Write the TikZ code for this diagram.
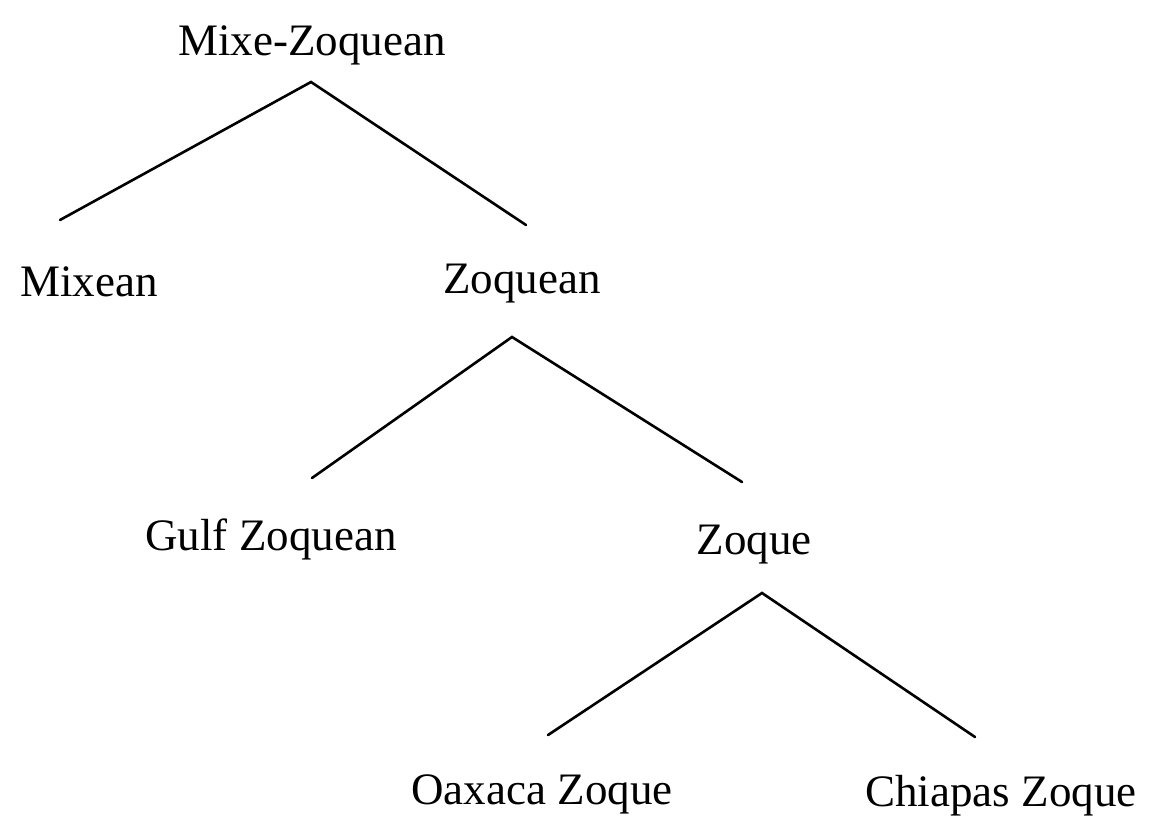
\documentclass[tikz,border=0pt]{standalone}
\usepackage{fontspec}
\setmainfont{Liberation Serif}
\begin{document}
\begin{tikzpicture}[x=1pt,y=-1pt,
  lang/.style={inner sep=0pt,font=\fontsize{45}{54}\selectfont},
  branch/.style={line width=2.6pt,line cap=round,line join=miter}]
\useasboundingbox (0,0) rectangle (1158,817);
% language labels
\node[lang] (mz) at (312,45) {Mixe-Zoquean};
\node[lang] (mixean) at (89,282) {Mixean};
\node[lang] (zoquean) at (522,284) {Zoquean};
\node[lang] (gulf) at (271,539) {Gulf Zoquean};
\node[lang] (zoque) at (754,545) {Zoque};
\node[lang] (oaxaca) at (542,794) {Oaxaca Zoque};
\node[lang] (chiapas) at (1001,796) {Chiapas Zoque};
% branch points
\coordinate (mzTop) at (311,82);
\coordinate (mzL) at (60,220);
\coordinate (mzR) at (526,225);
\coordinate (zqTop) at (512,337);
\coordinate (zqL) at (312,478);
\coordinate (zqR) at (742,482);
\coordinate (zTop) at (762,593);
\coordinate (zL) at (548,735);
\coordinate (zR) at (975,737);
% branches
\draw[branch] (mzL) -- (mzTop) -- (mzR);
\draw[branch] (zqL) -- (zqTop) -- (zqR);
\draw[branch] (zL) -- (zTop) -- (zR);
\end{tikzpicture}
\end{document}
